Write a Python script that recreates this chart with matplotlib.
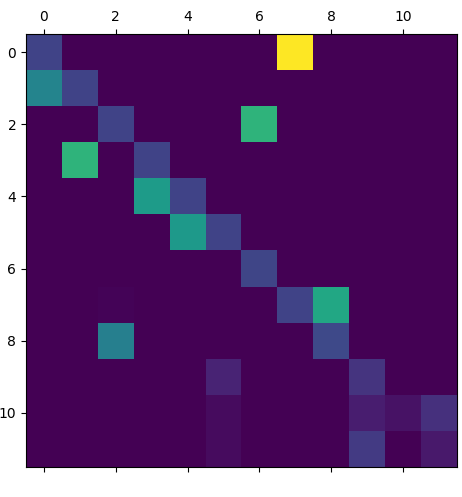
import numpy as np
import matplotlib.pyplot as plt

# cells (row, col, value relative to max)
rows = [0, 0, 1, 1, 2, 2, 3, 3, 4, 4, 5, 5, 6, 7, 7, 7, 8, 8, 9, 9, 10, 10, 10, 10, 11, 11, 11]
cols = [0, 7, 0, 1, 2, 6, 1, 3, 3, 4, 4, 5, 6, 2, 7, 8, 2, 8, 5, 9, 5, 9, 10, 11, 5, 9, 11]
vals = [0.20, 1.00, 0.45, 0.20, 0.20, 0.65, 0.65, 0.20, 0.55, 0.20, 0.54, 0.20, 0.21,
        0.01, 0.20, 0.60, 0.43, 0.22, 0.10, 0.15, 0.03, 0.08, 0.05, 0.14, 0.03, 0.17, 0.07]

mat = np.zeros((12, 12))
mat[rows, cols] = vals

fig = plt.figure(figsize=(4.62, 4.97), dpi=100)
ax = fig.add_axes([26 / 462, 30 / 497, 431 / 462, 433 / 497])
ax.matshow(mat, cmap='viridis', aspect='auto')

plt.savefig('out.png', dpi=100)
